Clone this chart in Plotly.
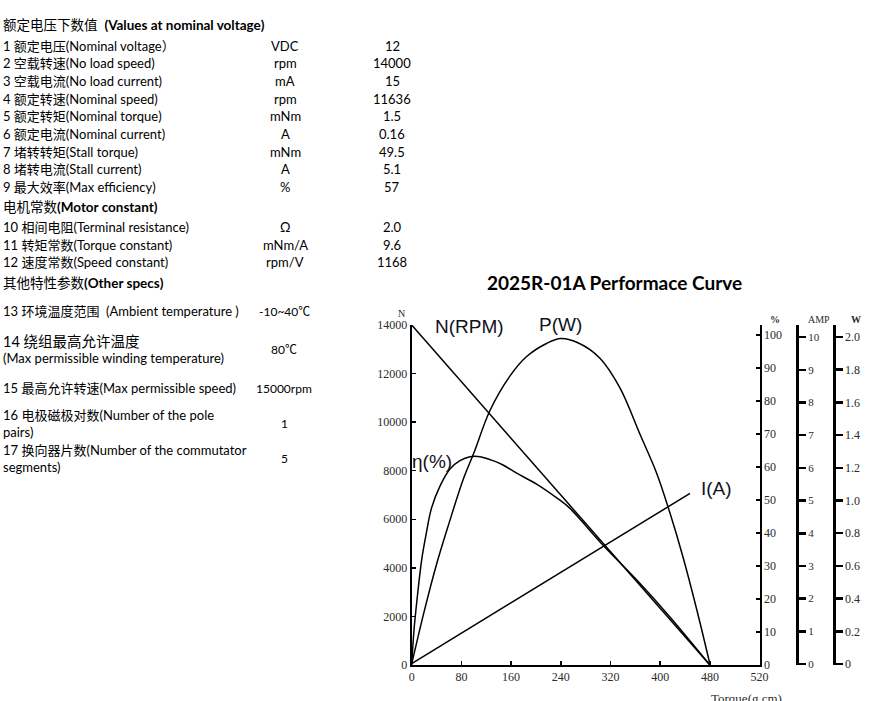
import plotly.graph_objects as go

# ---------------- data ----------------
# Table: (label, unit, value)
sec1_title = "额定电压下数值  <b>(Values at nominal voltage)</b>"
sec1_rows = [
    ("1 额定电压(Nominal voltage）", "VDC", "12"),
    ("2 空载转速(No load speed)", "rpm", "14000"),
    ("3 空载电流(No load current)", "mA", "15"),
    ("4 额定转速(Nominal speed)", "rpm", "11636"),
    ("5 额定转矩(Nominal torque)", "mNm", "1.5"),
    ("6 额定电流(Nominal current)", "A", "0.16"),
    ("7 堵转转矩(Stall torque)", "mNm", "49.5"),
    ("8 堵转电流(Stall current)", "A", "5.1"),
    ("9 最大效率(Max efficiency)", "%", "57"),
]
sec2_title = "电机常数<b>(Motor constant)</b>"
sec2_rows = [
    ("10 相间电阻(Terminal resistance)", "Ω", "2.0"),
    ("11 转矩常数(Torque constant)", "mNm/A", "9.6"),
    ("12 速度常数(Speed constant)", "rpm/V", "1168"),
]
sec3_title = "其他特性参数<b>(Other specs)</b>"
sec3_rows = [
    (["13 环境温度范围  (Ambient temperature )"], "-10~40℃"),
    (["14 绕组最高允许温度", "(Max permissible winding temperature)"], "80℃"),
    (["15 最高允许转速(Max permissible speed)"], "15000rpm"),
    (["16 电极磁极对数(Number of the pole", "pairs)"], "1"),
    (["17 换向器片数(Number of the commutator", "segments)"], "5"),
]

chart_title = "2025R-01A Performace Curve"

# Curves (torque in g.cm)
torque_N = [0, 480]
speed_N = [14000, 0]

torque_eta = [0, 3.7, 8.5, 16, 23, 32, 45.5, 61.6, 77.7, 93.8, 110, 131, 147, 169, 201, 238, 254, 308, 362, 416, 480]
eta_pct = [0, 10.6, 19.7, 31.8, 39.4, 47.6, 54.2, 59.4, 61.9, 63.1, 63.1, 61.9, 60.6, 58.1, 54.8, 50.0, 47.6, 36.3, 25.8, 14.5, 0]

torque_P = [0, 20, 40, 60, 83, 100, 126, 158, 185, 217, 240, 270, 303, 335, 368, 394, 416, 437, 459, 480]
power_W = [0, 0.32, 0.61, 0.86, 1.13, 1.29, 1.55, 1.76, 1.88, 1.96, 1.99, 1.96, 1.87, 1.69, 1.40, 1.17, 0.92, 0.65, 0.33, 0]

torque_I = [0, 448]
current_A = [0.015, 5.22]

x_tickvals = [0, 80, 160, 240, 320, 400, 480, 560]
x_ticktext = ["0", "80", "160", "240", "320", "400", "480", "520"]
n_ticks = [0, 2000, 4000, 6000, 8000, 10000, 12000, 14000]
pct_ticks = [0, 10, 20, 30, 40, 50, 60, 70, 80, 90, 100]
amp_ticks = [0, 1, 2, 3, 4, 5, 6, 7, 8, 9, 10]
w_ticks = [0, 0.2, 0.4, 0.6, 0.8, 1.0, 1.2, 1.4, 1.6, 1.8, 2.0]
w_ticktext = ["0", "0.2", "0.4", "0.6", "0.8", "1.0", "1.2", "1.4", "1.6", "1.8", "2.0"]

# ---------------- figure ----------------
W, H = 881, 701
def px(x):
    return x / W
def py(y):
    return (H - y) / H

TXT = "Lato, 'Noto Sans CJK SC', sans-serif"
SERIF = "'Liberation Serif', 'DejaVu Serif', serif"
LBL = "'Liberation Sans', Arial, sans-serif"
TICKC = "#2b2b2b"

fig = go.Figure()
line_style = dict(color="black", width=1.5)
fig.add_trace(go.Scatter(x=torque_N, y=speed_N, mode="lines", line=line_style, xaxis="x", yaxis="y", showlegend=False, hoverinfo="skip"))
fig.add_trace(go.Scatter(x=torque_eta, y=eta_pct, mode="lines", line=dict(line_style, shape="spline", smoothing=1), xaxis="x", yaxis="y2", showlegend=False, hoverinfo="skip"))
fig.add_trace(go.Scatter(x=torque_I, y=current_A, mode="lines", line=line_style, xaxis="x", yaxis="y3", showlegend=False, hoverinfo="skip"))
fig.add_trace(go.Scatter(x=torque_P, y=power_W, mode="lines", line=dict(line_style, shape="spline", smoothing=1), xaxis="x", yaxis="y4", showlegend=False, hoverinfo="skip"))

tickfont = dict(family=SERIF, size=12, color=TICKC)
xdom = [px(411.7), px(759.6)]
ydom = [py(665), py(325)]

common = dict(showgrid=False, zeroline=False, automargin=False, fixedrange=True)

fig.update_layout(
    template="none",
    width=W, height=H,
    margin=dict(l=0, r=0, t=0, b=0, pad=0, autoexpand=False),
    paper_bgcolor="white", plot_bgcolor="white",
    xaxis=dict(domain=xdom, range=[0, 560], tickvals=x_tickvals, ticktext=x_ticktext,
               ticks="inside", ticklen=4, tickwidth=1.5, tickcolor="black",
               showline=True, linecolor="black", linewidth=2,
               tickfont=tickfont, anchor="y", **common),
    yaxis=dict(domain=ydom, range=[0, 14000], tickvals=n_ticks, tickformat="d",
               ticks="inside", ticklen=4, tickwidth=1.5, tickcolor="black",
               showline=True, linecolor="black", linewidth=2,
               tickfont=tickfont, anchor="x", **common),
    yaxis2=dict(overlaying="y", side="right", anchor="x", range=[0, 103], tickvals=pct_ticks,
                ticks="inside", ticklen=4, tickwidth=1.5, tickcolor="black",
                showline=True, linecolor="black", linewidth=2,
                tickfont=tickfont, **common),
    yaxis3=dict(overlaying="y", side="right", anchor="free", position=px(797),
                range=[-0.03, 10.37], tickvals=amp_ticks,
                ticks="outside", ticklen=7, tickwidth=2.5, tickcolor="black",
                showline=True, linecolor="black", linewidth=3,
                tickfont=dict(family=SERIF, size=11, color=TICKC), **common),
    yaxis4=dict(overlaying="y", side="right", anchor="free", position=px(833.5),
                range=[-0.006, 2.073], tickvals=w_ticks, ticktext=w_ticktext,
                ticks="outside", ticklen=7, tickwidth=2.5, tickcolor="black",
                showline=True, linecolor="black", linewidth=3,
                tickfont=dict(family=SERIF, size=12, color=TICKC), **common),
)

ann = []
def text(x, y, s, size=13, family=TXT, xanchor="left", color="black", yanchor="middle"):
    ann.append(dict(x=px(x), y=py(y), xref="paper", yref="paper", text=s, showarrow=False,
                    xanchor=xanchor, yanchor=yanchor, font=dict(family=family, size=size, color=color)))

# Table
text(1, 25, sec1_title, size=13.5)
y1 = [45.5, 63.3, 81, 99, 116, 134, 151.7, 169, 186.7]
for (lab, unit, val), yy in zip(sec1_rows, y1):
    text(1, yy, lab)
    text(285, yy, unit, xanchor="center")
    text(392, yy, val, xanchor="center")
text(1, 206.7, sec2_title, size=13.5)
y2 = [227.3, 245, 261.7]
for (lab, unit, val), yy in zip(sec2_rows, y2):
    text(1, yy, lab)
    text(285, yy, unit, xanchor="center")
    text(392, yy, val, xanchor="center")
text(1, 282.7, sec3_title, size=13.5)
y3 = [[311], [341, 358.3], [388.3], [415, 432.3], [450, 466.7]]
for (lines, val), yys in zip(sec3_rows, y3):
    for ln, yy in zip(lines, yys):
        sz = 14.5 if ln.startswith("14 ") else 13
        text(1, yy, ln, size=sz)
    vy = sum(yys) / len(yys)
    text(284, vy, val, xanchor="center", size=12)

# Chart title
text(614, 282, "<b>" + chart_title + "</b>", size=19, xanchor="center")

# Curve labels
lblc = "#111122"
text(433, 326, "N(RPM)", size=19, family=LBL, color=lblc)
text(537, 324, "P(W)", size=19, family=LBL, color=lblc)
text(410, 462, "η(%)", size=19, family=LBL, color=lblc)
text(699, 488, "I(A)", size=19, family=LBL, color=lblc)

# Axis titles
text(401, 313, "N", size=10, family=SERIF, xanchor="center", color=TICKC)
text(775, 319, "<b>%</b>", size=10, family=SERIF, xanchor="center", color=TICKC)
text(819, 320, "AMP", size=10, family=SERIF, xanchor="center", color=TICKC)
text(856, 320, "<b>W</b>", size=10, family=SERIF, xanchor="center", color=TICKC)
text(709, 689, "Torque(g.cm)", size=13, family=SERIF, xanchor="left", yanchor="top", color=TICKC)

fig.update_layout(annotations=ann)
fig.write_html("out.html", config={"displayModeBar": False, "staticPlot": True},
               post_script="document.body.style.margin='0px';document.body.style.overflow='hidden';")
